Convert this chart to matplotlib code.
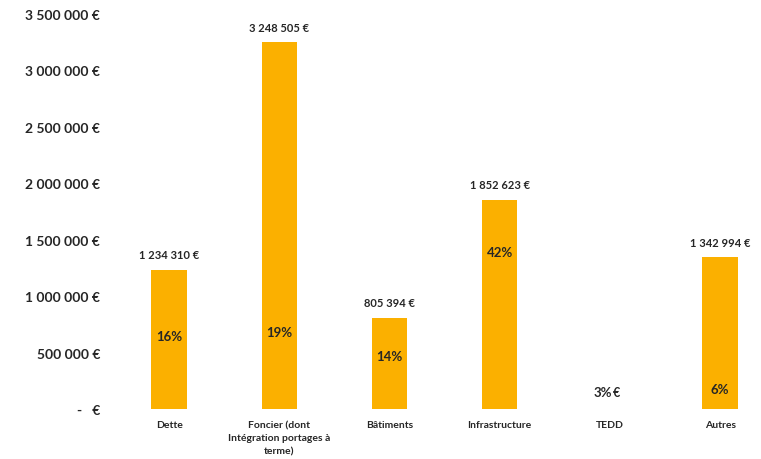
import matplotlib.pyplot as plt
from matplotlib.ticker import FuncFormatter

categories = ['Dette', 'Foncier (dont\nIntégration portages à\nterme)', 'Bâtiments',
              'Infrastructure', 'TEDD', 'Autres']
montants = [1234310, 3248505, 805394, 1852623, 0, 1342994]
value_labels = ['1 234 310 €', '3 248 505 €', '805 394 €', '1 852 623 €', '-  €', '1 342 994 €']
pct_labels = ['16%', '19%', '14%', '42%', '3%', '6%']
# vertical spots of the percentage labels (data units)
pct_y = [650000, 680000, 470000, 1390000, 150000, 180000]

plt.rcParams['font.family'] = ['Lato', 'DejaVu Sans']
plt.rcParams['font.weight'] = 'bold'
txt = '#262626'
bar_color = '#FBB000'

fig = plt.figure(figsize=(7.61, 4.60), dpi=100)
ax = fig.add_axes([114 / 761, 50 / 460, 647 / 761, 395 / 460])

x = range(len(categories))
ax.bar(x, montants, width=0.32, color=bar_color)

for i, v in enumerate(montants):
    if v > 0:
        ax.annotate(value_labels[i], (i, v), xytext=(0, 7), textcoords='offset points',
                    ha='center', va='bottom', fontsize=8, color=txt, fontweight='bold')
        ax.text(i, pct_y[i], pct_labels[i], ha='center', va='center', fontsize=9.5,
                color=txt, fontweight='bold')
    else:
        # empty bar: the percentage and the euro sign sit side by side
        ax.text(i + 0.02, pct_y[i], pct_labels[i], ha='right', va='center', fontsize=9.5,
                color=txt, fontweight='bold')
        ax.text(i + 0.03, pct_y[i], '€', ha='left', va='center', fontsize=9,
                color=txt, fontweight='bold')

def euro(v, pos):
    if v == 0:
        return '-   €'
    return '{:,.0f} €'.format(v).replace(',', ' ')

ax.set_ylim(0, 3500000)
ax.set_xlim(-0.5, -0.5 + 647 / 110.2)
ax.set_yticks(range(0, 3500001, 500000))
ax.yaxis.set_major_formatter(FuncFormatter(euro))
ax.set_xticks(list(x))
ax.set_xticklabels(categories, fontsize=7.5, color=txt, fontweight='bold', linespacing=1.6)
ax.tick_params(axis='y', length=0, pad=10, labelsize=10, labelcolor=txt)
ax.tick_params(axis='x', length=0, pad=8)
for s in ax.spines.values():
    s.set_visible(False)
for lbl in ax.get_xticklabels():
    lbl.set_va('top')

fig.savefig('out.png', dpi=100, facecolor='white')
